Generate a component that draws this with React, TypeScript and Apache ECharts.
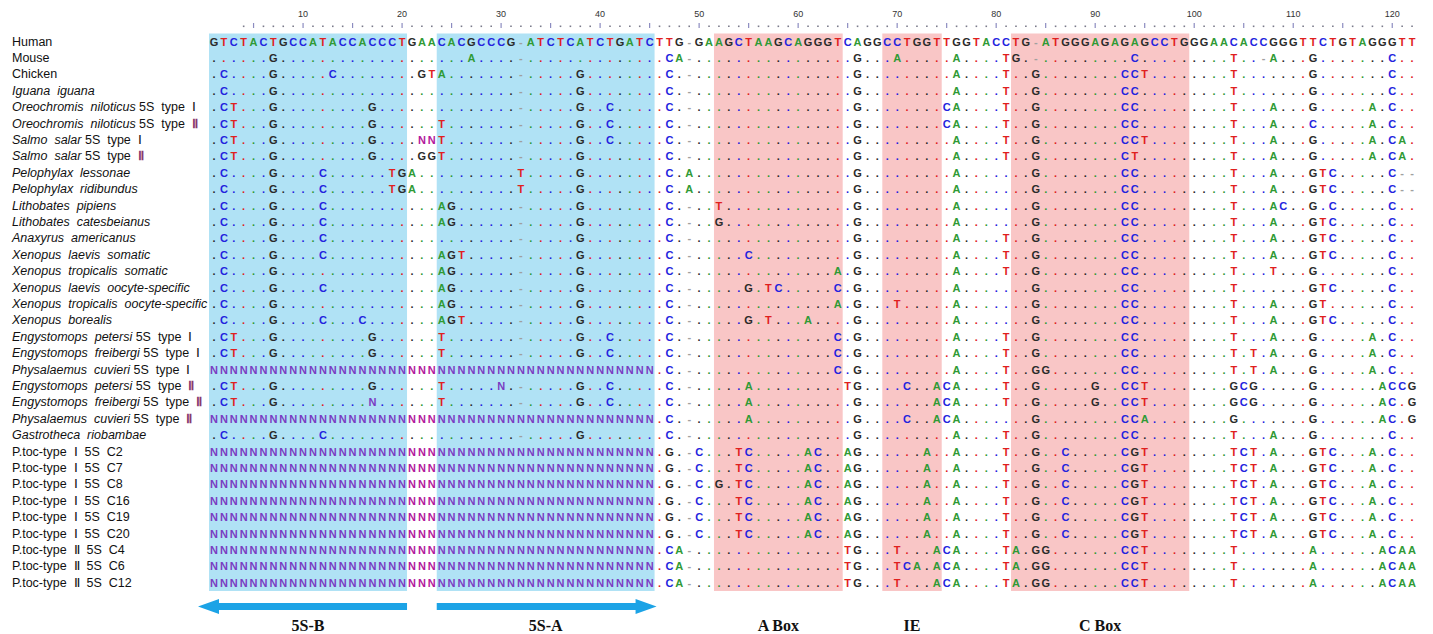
import React, { useEffect, useRef } from 'react';
import * as echarts from 'echarts';

// Reference (Human) sequence, split by alignment blocks
const humanSegments = [
  'GTCTACTGCCATACCACCCT',
  'GAA',
  'CACGCCCG-ATCTCATCTGATC',
  'TTG-GA',
  'AGCTAAGCAGGGT',
  'CAGG',
  'CCTGGT',
  'TGGTACC',
  'TG-ATGGGAGAGAGCCTG',
  'GGAACACCGGGTTCTGTAGGGTT',
];

// Row labels: italic part / plain part
const labelItalic = [
  '', '', '', 'Iguana iguana', 'Oreochromis niloticus', 'Oreochromis niloticus',
  'Salmo salar', 'Salmo salar', 'Pelophylax lessonae', 'Pelophylax ridibundus',
  'Lithobates pipiens', 'Lithobates catesbeianus', 'Anaxyrus americanus',
  'Xenopus laevis somatic', 'Xenopus tropicalis somatic', 'Xenopus laevis oocyte-specific',
  'Xenopus tropicalis oocyte-specific', 'Xenopus borealis', 'Engystomops petersi',
  'Engystomops freibergi', 'Physalaemus cuvieri', 'Engystomops petersi',
  'Engystomops freibergi', 'Physalaemus cuvieri', 'Gastrotheca riobambae',
  '', '', '', '', '', '', '', '', '',
];
const labelPlain = [
  'Human', 'Mouse', 'Chicken', '', '5S type Ⅰ', '5S type Ⅱ', '5S type Ⅰ', '5S type Ⅱ',
  '', '', '', '', '', '', '', '', '', '', '5S type Ⅰ', '5S type Ⅰ', '5S type Ⅰ',
  '5S type Ⅱ', '5S type Ⅱ', '5S type Ⅱ', '',
  'P.toc-type Ⅰ 5S C2', 'P.toc-type Ⅰ 5S C7', 'P.toc-type Ⅰ 5S C8',
  'P.toc-type Ⅰ 5S C16', 'P.toc-type Ⅰ 5S C19', 'P.toc-type Ⅰ 5S C20',
  'P.toc-type Ⅱ 5S C4', 'P.toc-type Ⅱ 5S C6', 'P.toc-type Ⅱ 5S C12',
];

// Differences from the Human sequence: "<column><base>" or "<from>..<to><base>"
const mouse = '7G 27A 47C 48A 66G 70A 76A 81T 82G 94C 104T 107- 108A 112G 120C';
const chicken = '2C 7G 13C 22G 23T 24A 38G 47C 66G 76A 81T 84G 93C 94C 95T 104T 112G 120C';
const iguana = '2C 7G 38G 47C 66G 76A 81T 84G 93C 94C 104T 112G 120C';
const oreoI = '2C 3T 7G 17G 38G 41C 47C 66G 75C 76A 81T 84G 93C 94C 104T 108A 112G 118A 120C';
const oreoII = '2C 3T 7G 17G 24T 38G 41C 47C 66G 75C 76A 81T 84G 93C 94C 104T 108A 112C 118A 120C';
const salmoI = '2C 3T 7G 17G 22N 23N 24T 38G 41C 47C 66G 76A 81T 84G 93C 94C 95T 104T 108A 112G 118A 120C 121A';
const salmoII = '2C 3T 7G 17G 22G 23G 24T 38G 47C 66G 76A 81T 84G 93C 94T 104T 108A 112G 118A 120C 121A';
const pelLessonae = '2C 7G 12C 19T 20G 21A 32T 38G 47C 49A 66G 76A 84G 93C 94C 104T 108A 112G 113T 114C 120C 121- 122-';
const pelRidibundus = '2C 7G 12C 19T 20G 21A 32T 38G 47C 49A 66G 76A 84G 93C 94C 104T 108A 112G 113T 114C 120C 121- 122-';
const lithPipiens = '2C 7G 12C 24A 25G 38G 47C 52T 66G 76A 84G 93C 94C 104T 108A 109C 112G 114C 120C';
const lithCatesbeianus = '2C 7G 12C 24A 25G 38G 47C 52G 66G 76A 84G 93C 94C 104T 108A 112G 113T 114C 120C';
const anaxyrus = '2C 7G 12C 38G 47C 66G 76A 81T 84G 93C 94C 104T 108A 112G 113T 114C 120C';
const xlSomatic = '2C 7G 12C 24A 25G 26T 38G 47C 55C 66G 76A 81T 84G 93C 94C 104T 108A 112G 113T 114C 120C';
const xtSomatic = '2C 7G 24A 25G 38G 47C 64A 66G 76A 81T 84G 93C 94C 104T 108T 112G 120C';
const xlOocyte = '2C 7G 12C 24A 25G 38G 47C 55G 57T 58C 64C 66G 76A 84G 93C 94C 104T 112G 113T 114C 120C';
const xtOocyte = '2C 7G 24A 25G 38G 47C 64A 66G 70T 76A 84G 93C 94C 104T 108A 112G 113T 120C';
const xBorealis = '2C 7G 12C 16C 24A 25G 26T 38G 47C 55G 57T 61A 66G 76A 84G 93C 94C 104T 108A 112G 113T 114C 120C';
const engPetersiI = '2C 3T 7G 17G 24T 38G 41C 47C 64C 66G 76A 81T 84G 93C 94C 104T 108A 112G 118A 120C';
const engFreibergiI = '2C 3T 7G 17G 24T 38G 41C 47C 64C 66G 76A 81T 84G 93C 94C 104T 106T 108A 112G 118A 120C';
const physI = '1..45N 47C 64C 66G 76A 81T 84G 85G 93C 94C 104T 106T 108A 112G 118A 120C';
const engPetersiII = '2C 3T 7G 17G 24T 30N 38G 41C 47C 55A 65T 66G 71C 74A 75C 76A 81T 84G 90G 93C 94C 95T 104G 105C 106G 112G 119A 120C 121C 122G';
const engFreibergiII = '2C 3T 7G 17N 24T 38G 41C 47C 55A 66G 74A 75C 76A 81T 84G 90G 93C 94C 95T 104G 105C 106G 112G 119A 120C 122G';
const physII = '1..45N 47C 55A 66G 71C 74A 75C 76A 84G 93C 94C 95A 104G 112G 119A 120C 122G';
const gastrotheca = '2C 7G 12C 38G 47C 66G 76A 81T 84G 93C 94C 104T 108A 112G 120C';
const ptocI = '1..45N 47G 50C 54T 55C 61A 62C 65A 66G 73A 76A 81T 84G 87C 93C 94G 95T 104T 105C 106T 108A 112G 113T 114C 118A 120C';
const ptocI_C8 = '1..45N 47G 50C 52G 54T 55C 61A 62C 65A 66G 73A 76A 81T 84G 87C 93C 94G 95T 104T 105C 106T 108A 112G 113T 114C 118A 120C';
const ptocII = '1..45N 47C 48A 65T 66G 70T 74A 75C 76A 81T 82A 84G 85G 93C 94C 95T 104T 112A 119A 120C 121A 122A';
const ptocII_C6 = '1..45N 47C 48A 65T 66G 70T 71C 72A 74A 75C 76A 81T 82A 84G 85G 93C 94C 95T 104T 112A 119A 120C 121A 122A';

const rowSpecs: (string | null)[] = [
  null, mouse, chicken, iguana, oreoI, oreoII, salmoI, salmoII, pelLessonae, pelRidibundus,
  lithPipiens, lithCatesbeianus, anaxyrus, xlSomatic, xtSomatic, xlOocyte, xtOocyte, xBorealis,
  engPetersiI, engFreibergiI, physI, engPetersiII, engFreibergiII, physII, gastrotheca,
  ptocI, ptocI, ptocI_C8, ptocI, ptocI, ptocI, ptocII, ptocII_C6, ptocII,
];

// Shaded regions (columns, inclusive) and their annotations
const regionStart = [1, 24, 52, 69, 82];
const regionEnd = [20, 45, 64, 74, 99];
const regionKind = ['blue', 'blue', 'pink', 'pink', 'pink'];
const regionLabel = ['5S-B', '5S-A', 'A Box', 'IE', 'C Box'];
const regionArrow = ['left', 'right', '', '', ''];
const RULER_FROM = 4;

const FONT = '"Liberation Sans", Arial, Helvetica, sans-serif';
const BLUE = '#B0E2F5';
const PINK = '#F9C6C6';
const ARROW = '#1CA3E6';
const BASE_COLOR: Record<string, string> = {
  A: '#2F9A35',
  C: '#2323DE',
  G: '#2A2A2A',
  T: '#E0201E',
  '-': '#A0A0A0',
};

const human = humanSegments.join('');
const NCOL = human.length;

function buildRow(spec: string | null): string {
  if (spec === null) return human;
  const arr = human.split('').map((ch) => (ch === '-' ? '-' : '.'));
  spec.trim().split(/\s+/).forEach((tok) => {
    const m = tok.match(/^(\d+)(?:\.\.(\d+))?(.)$/);
    if (!m) return;
    const a = +m[1];
    const b = m[2] ? +m[2] : a;
    for (let i = a; i <= b; i++) arr[i - 1] = m[3];
  });
  return arr.join('');
}

function inBlue(col: number): boolean {
  for (let i = 0; i < regionStart.length; i++) {
    if (regionKind[i] === 'blue' && col >= regionStart[i] && col <= regionEnd[i]) return true;
  }
  return false;
}

function colorOf(ch: string, col: number): string {
  const base = ch === '.' ? human[col - 1] : ch;
  if (base === 'N') return inBlue(col) ? '#7A3CC2' : '#B3189C';
  return BASE_COLOR[base] || '#333';
}

const wide = (s: string) => s.replace(/ /g, '  ');

export default function App() {
  const ref = useRef<HTMLDivElement>(null);

  useEffect(() => {
    if (!ref.current) return;
    const chart = echarts.init(ref.current, undefined, { renderer: 'svg' });

    const rows = rowSpecs.map(buildRow);
    const rowKeys = labelPlain.map((p, i) => (labelItalic[i] + ' ' + p).trim());
    const colCats = Array.from({ length: NCOL }, (_, i) => String(i + 1));

    const cellData: number[][] = [];
    const cellChar: string[] = [];
    const cellColor: string[] = [];
    rows.forEach((row, r) => {
      for (let c = 0; c < NCOL; c++) {
        cellData.push([c, r]);
        cellChar.push(row[c]);
        cellColor.push(colorOf(row[c], c + 1));
      }
    });

    const rulerData: number[][] = [];
    for (let c = RULER_FROM - 1; c < NCOL; c++) rulerData.push([c, 0]);

    const regionData = regionStart.map((s, i) => [s - 1, 0, regionEnd[i] - 1]);

    const option: any = {
      animation: false,
      backgroundColor: '#ffffff',
      grid: { left: 209, top: 33.5, width: 1208, height: 557.5 },
      xAxis: {
        type: 'category',
        data: colCats,
        position: 'top',
        axisLine: { show: false },
        axisTick: { show: false },
        splitLine: { show: false },
        axisLabel: {
          interval: (i: number) => (i + 1) % 10 === 0,
          margin: 15,
          fontSize: 9,
          color: '#333',
          fontFamily: FONT,
        },
      },
      yAxis: {
        type: 'category',
        data: rowKeys,
        inverse: true,
        axisLine: { show: false },
        axisTick: { show: false },
        splitLine: { show: false },
        axisLabel: {
          interval: 0,
          align: 'left',
          margin: 197,
          color: '#111',
          formatter: (_v: string, idx: number) => {
            const it = labelItalic[idx];
            const pl = labelPlain[idx];
            let s = '';
            if (it) s += `{i|${wide(it)}}`;
            if (pl) {
              const w = wide(pl);
              const plFmt = it ? w.replace(/Ⅱ/g, '}{r|Ⅱ}{n|') : w;
              s += `{n|${it ? ' ' : ''}${plFmt}}`;
            }
            return s;
          },
          rich: {
            i: { fontStyle: 'italic', fontSize: 12.5, fontFamily: FONT, color: '#111' },
            n: { fontSize: 12.5, fontFamily: FONT, color: '#111' },
            r: { fontSize: 12.5, fontFamily: FONT, color: '#8A3A6E', fontWeight: 'bold' },
          },
        },
      },
      series: [
        {
          type: 'custom',
          name: 'regions',
          z: 1,
          encode: { x: 0, y: 1 },
          data: regionData,
          renderItem: (params: any, api: any) => {
            const i = params.dataIndex;
            const a = api.coord([api.value(0), 0]);
            const b = api.coord([api.value(2), 0]);
            const bw = api.size([1, 0])[0];
            return {
              type: 'rect',
              shape: {
                x: a[0] - bw / 2,
                y: params.coordSys.y,
                width: b[0] - a[0] + bw,
                height: params.coordSys.height,
              },
              style: { fill: regionKind[i] === 'blue' ? BLUE : PINK },
            };
          },
        },
        {
          type: 'custom',
          name: 'ruler',
          z: 2,
          encode: { x: 0, y: 1 },
          data: rulerData,
          renderItem: (params: any, api: any) => {
            const c = api.value(0);
            const p = api.coord([c, 0]);
            const top = params.coordSys.y;
            if ((c + 1) % 5 === 0) {
              return {
                type: 'rect',
                shape: { x: p[0] - 0.6, y: top - 10.5, width: 1.2, height: 5 },
                style: { fill: '#8C8CC0' },
              };
            }
            return {
              type: 'rect',
              shape: { x: p[0] - 0.8, y: top - 8, width: 1.6, height: 1.6 },
              style: { fill: '#7A7A8A' },
            };
          },
        },
        {
          type: 'custom',
          name: 'alignment',
          z: 3,
          progressive: 0,
          encode: { x: 0, y: 1 },
          data: cellData,
          renderItem: (params: any, api: any) => {
            const i = params.dataIndex;
            const p = api.coord([api.value(0), api.value(1)]);
            return {
              type: 'text',
              x: p[0],
              y: p[1],
              style: {
                text: cellChar[i],
                fill: cellColor[i],
                font: `bold 11px ${FONT}`,
                align: 'center',
                verticalAlign: 'middle',
              },
            };
          },
        },
        {
          type: 'custom',
          name: 'annotations',
          z: 4,
          encode: { x: 0, y: 1 },
          data: regionData,
          renderItem: (params: any, api: any) => {
            const i = params.dataIndex;
            const a = api.coord([api.value(0), 0]);
            const b = api.coord([api.value(2), 0]);
            const bw = api.size([1, 0])[0];
            const x0 = a[0] - bw / 2;
            const x1 = b[0] + bw / 2;
            const cx = (x0 + x1) / 2;
            const bottom = params.coordSys.y + params.coordSys.height;
            const yc = bottom + 15.5;
            const children: any[] = [
              {
                type: 'text',
                x: cx,
                y: bottom + 34,
                style: {
                  text: regionLabel[i],
                  fill: '#111',
                  font: 'bold 16px "Liberation Serif", "Times New Roman", serif',
                  align: 'center',
                  verticalAlign: 'middle',
                },
              },
            ];
            if (regionArrow[i] === 'left') {
              const tip = x0 - 11;
              const hb = tip + 21;
              children.push({
                type: 'polygon',
                shape: {
                  points: [
                    [tip, yc], [hb, yc - 7.5], [hb, yc - 3.5], [x1, yc - 3.5],
                    [x1, yc + 3.5], [hb, yc + 3.5], [hb, yc + 7.5],
                  ],
                },
                style: { fill: ARROW },
              });
            } else if (regionArrow[i] === 'right') {
              const tip = x1 + 2;
              const hb = tip - 21;
              children.push({
                type: 'polygon',
                shape: {
                  points: [
                    [tip, yc], [hb, yc - 7.5], [hb, yc - 3.5], [x0, yc - 3.5],
                    [x0, yc + 3.5], [hb, yc + 3.5], [hb, yc + 7.5],
                  ],
                },
                style: { fill: ARROW },
              });
            }
            return { type: 'group', children };
          },
        },
      ],
    };

    chart.setOption(option);
    return () => chart.dispose();
  }, []);

  return (
    <div
      ref={ref}
      style={{ position: 'absolute', left: 0, top: 0, width: 1433, height: 634, background: '#fff' }}
    />
  );
}
